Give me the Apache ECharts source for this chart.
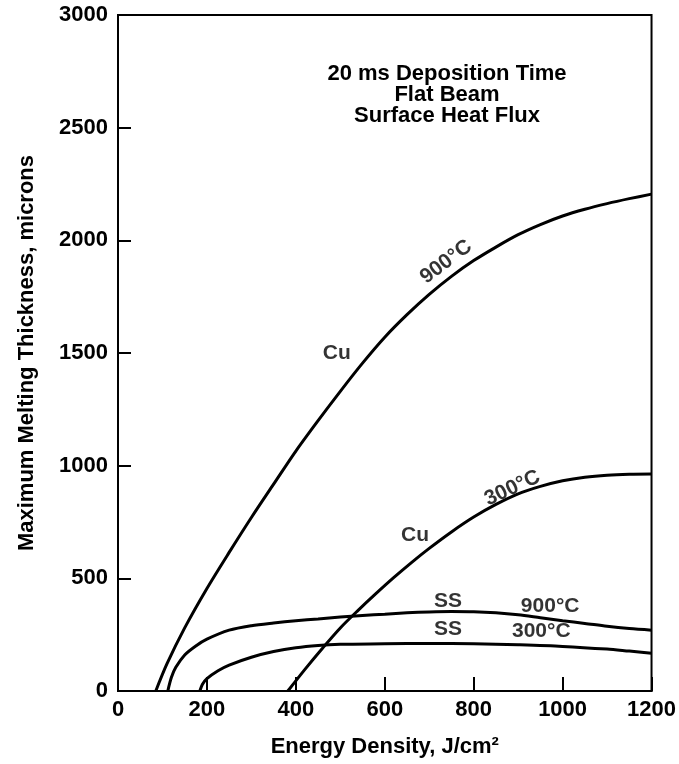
<!DOCTYPE html>
<html>
<head>
<meta charset="utf-8">
<script src="https://cdn.jsdelivr.net/npm/echarts@6/dist/echarts.min.js"></script>
<style>
html,body{margin:0;padding:0;background:#fff;}
#chart{width:679px;height:764px;}
</style>
</head>
<body>
<div id="chart"></div>
<script>
// Energy density (J/cm²) and maximum melting thickness (microns)
const cu900X = [85, 110, 150, 200, 250, 300, 350, 400, 450, 500, 550, 600, 650, 700, 750, 800, 850, 900, 950, 1000, 1050, 1100, 1150, 1200];
const cu900Y = [0, 120, 280, 455, 615, 770, 918, 1065, 1200, 1330, 1455, 1570, 1670, 1760, 1840, 1910, 1970, 2025, 2070, 2108, 2138, 2163, 2185, 2205];

const cu300X = [382, 420, 460, 500, 540, 580, 620, 660, 700, 750, 800, 850, 900, 950, 1000, 1050, 1100, 1150, 1200];
const cu300Y = [0, 95, 190, 280, 358, 432, 503, 570, 633, 706, 772, 828, 875, 908, 933, 949, 958, 962, 963];

const ss900X = [112, 120, 130, 150, 175, 200, 250, 300, 350, 400, 450, 500, 550, 600, 650, 700, 750, 800, 850, 900, 950, 1000, 1050, 1100, 1150, 1200];
const ss900Y = [0, 60, 105, 160, 200, 230, 270, 290, 302, 312, 320, 328, 335, 341, 347, 351, 353, 352, 347, 338, 325, 312, 300, 287, 277, 270];

const ss300X = [184, 190, 200, 225, 250, 300, 350, 400, 450, 500, 600, 700, 800, 900, 1000, 1100, 1150, 1200];
const ss300Y = [0, 30, 55, 90, 115, 150, 175, 192, 202, 207, 210, 211, 210, 205, 198, 186, 177, 168];

const xTicks = [0, 200, 400, 600, 800, 1000, 1200];
const yTicks = [0, 500, 1000, 1500, 2000, 2500, 3000];

const noteLines = ['20 ms Deposition Time', 'Flat Beam', 'Surface Heat Flux'];

const curveLabelText = ['Cu', '900°C', 'Cu', '300°C', 'SS', '900°C', 'SS', '300°C'];
const curveLabelX = [492, 738, 668, 887, 742, 972, 742, 952];
const curveLabelY = [1500, 1904, 692, 900, 399, 377, 275, 266];
const curveLabelRotate = [0, 37, 0, 25, 0, 0, 0, 0];

const FONT = '"Liberation Sans", Arial, Helvetica, sans-serif';

function pairs(xs, ys) { return xs.map((x, i) => [x, ys[i]]); }

function curve(name, xs, ys) {
  return {
    name: name,
    type: 'line',
    data: pairs(xs, ys),
    smooth: 0.3,
    showSymbol: false,
    symbol: 'none',
    lineStyle: { color: '#000', width: 3 },
    z: 3,
    silent: true
  };
}

const chart = echarts.init(document.getElementById('chart'), null, { renderer: 'canvas' });

chart.setOption({
  backgroundColor: '#fff',
  animation: false,
  grid: {
    left: 118, right: 25, top: 15, bottom: 73,
    show: true, borderColor: '#000', borderWidth: 2, backgroundColor: 'transparent'
  },
  xAxis: {
    type: 'value',
    min: xTicks[0], max: xTicks[xTicks.length - 1], interval: 200,
    name: 'Energy Density, J/cm²',
    nameLocation: 'middle',
    nameGap: 45,
    nameTextStyle: { fontFamily: FONT, fontWeight: 'bold', fontSize: 22, color: '#000' },
    axisLine: { show: true, lineStyle: { color: '#000', width: 2 } },
    axisTick: { show: true, inside: true, length: 14, lineStyle: { color: '#000', width: 2 } },
    axisLabel: { fontFamily: FONT, fontWeight: 'bold', fontSize: 22, color: '#000', margin: 8, formatter: v => String(v) },
    splitLine: { show: false }
  },
  yAxis: {
    type: 'value',
    min: yTicks[0], max: yTicks[yTicks.length - 1], interval: 500,
    name: 'Maximum Melting Thickness, microns',
    nameLocation: 'middle',
    nameGap: 80,
    nameRotate: 90,
    nameTextStyle: { fontFamily: FONT, fontWeight: 'bold', fontSize: 22, color: '#000' },
    axisLine: { show: true, lineStyle: { color: '#000', width: 2 } },
    axisTick: { show: true, inside: true, length: 13, lineStyle: { color: '#000', width: 2 } },
    axisLabel: { fontFamily: FONT, fontWeight: 'bold', fontSize: 22, color: '#000', margin: 10, formatter: v => String(v) },
    splitLine: { show: false }
  },
  graphic: [{
    type: 'text',
    left: 447 - 130,
    top: 63,
    style: {
      text: noteLines.join('\n'),
      width: 260,
      align: 'center',
      textAlign: 'center',
      x: 130,
      font: 'bold 22px ' + FONT,
      lineHeight: 21,
      fill: '#000'
    }
  }],
  series: [
    curve('Cu 900°C', cu900X, cu900Y),
    curve('Cu 300°C', cu300X, cu300Y),
    curve('SS 900°C', ss900X, ss900Y),
    curve('SS 300°C', ss300X, ss300Y),
    {
      name: 'labels',
      type: 'scatter',
      symbolSize: 0,
      silent: true,
      z: 4,
      data: curveLabelText.map((t, i) => ({
        value: [curveLabelX[i], curveLabelY[i]],
        label: {
          show: true,
          formatter: t,
          position: 'inside',
          rotate: curveLabelRotate[i],
          fontFamily: FONT,
          fontWeight: 'bold',
          fontSize: 21,
          color: '#000'
        }
      }))
    }
  ]
});
</script>
</body>
</html>
